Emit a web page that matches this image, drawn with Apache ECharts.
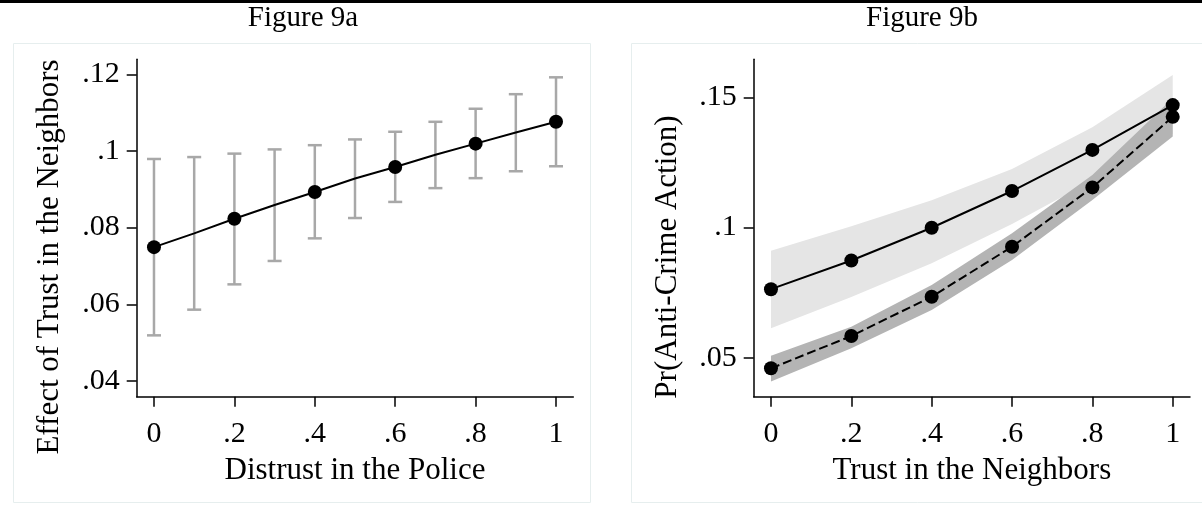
<!DOCTYPE html>
<html>
    <head>
        <meta charset="utf-8">
        <title>Figure 9</title>
        <script src="https://cdn.jsdelivr.net/npm/echarts@6/dist/echarts.min.js"></script>
        <style>
            html, body { margin: 0; padding: 0; background: #fff; }
            #chart { width: 1202px; height: 506px; }
        </style>
    </head>
    <body>
        <div id="chart"></div>
    </body>

    <script type="text/javascript">
        // Figure 9a: effect of trust in the neighbors by distrust in the police
        var distrustX = [0, 0.1, 0.2, 0.3, 0.4, 0.5, 0.6, 0.7, 0.8, 0.9, 1];
        var effect = [0.0749, 0.0785, 0.0823, 0.0859, 0.0893, 0.0928, 0.0958, 0.0990, 0.1019, 0.1048, 0.1076];
        var effectLow = [0.0519, 0.0586, 0.0652, 0.0713, 0.0772, 0.0825, 0.0867, 0.0903, 0.0929, 0.0947, 0.0960];
        var effectHigh = [0.0979, 0.0984, 0.0993, 0.1004, 0.1015, 0.1030, 0.1050, 0.1076, 0.1110, 0.1148, 0.1192];
        var markerX = [0, 0.2, 0.4, 0.6, 0.8, 1];
        var markerEffect = [0.0749, 0.0823, 0.0893, 0.0958, 0.1019, 0.1076];
        var effectTicks = [0.04, 0.06, 0.08, 0.1, 0.12];

        // Figure 9b: Pr(anti-crime action) by trust in the neighbors
        var trustX = [0, 0.2, 0.4, 0.6, 0.8, 1];
        var prSolid = [0.0763, 0.0873, 0.0999, 0.1140, 0.1298, 0.1470];
        var prSolidLow = [0.0613, 0.0733, 0.0863, 0.1013, 0.1180, 0.1360];
        var prSolidHigh = [0.0911, 0.1005, 0.1105, 0.1225, 0.1385, 0.1586];
        var prDashed = [0.0459, 0.0583, 0.0734, 0.0926, 0.1154, 0.1425];
        var prDashedLow = [0.0408, 0.0536, 0.0683, 0.0875, 0.1106, 0.1349];
        var prDashedHigh = [0.0507, 0.0619, 0.0779, 0.0978, 0.1202, 0.1496];
        var prTicks = [0.05, 0.1, 0.15];

        var xTicks = [0, 0.2, 0.4, 0.6, 0.8, 1];

        var serif = "'Liberation Serif', 'DejaVu Serif', serif";

        function stataNum(v) {
            // Stata style: .2 instead of 0.2
            return String(v).replace(/^0\./, '.');
        }

        function zip(xs) {
            var cols = Array.prototype.slice.call(arguments, 1);
            return xs.map(function (x, i) {
                return [x].concat(cols.map(function (c) { return c[i]; }));
            });
        }

        function renderErrorBar(params, api) {
            var x = api.value(0);
            var lo = api.coord([x, api.value(1)]);
            var hi = api.coord([x, api.value(2)]);
            var half = 7;
            var style = { stroke: '#a8a8a8', lineWidth: 2.5 };
            return {
                type: 'group',
                children: [
                    { type: 'line', shape: { x1: lo[0], y1: lo[1], x2: hi[0], y2: hi[1] }, style: style },
                    { type: 'line', shape: { x1: lo[0] - half, y1: lo[1], x2: lo[0] + half, y2: lo[1] }, style: style },
                    { type: 'line', shape: { x1: hi[0] - half, y1: hi[1], x2: hi[0] + half, y2: hi[1] }, style: style }
                ]
            };
        }

        function bandRenderer(color) {
            return function (params, api) {
                if (params.dataIndexInside !== 0) return null;
                var n = params.dataInsideLength;
                var top = [], bottom = [];
                for (var i = 0; i < n; i++) {
                    var x = api.value(0, i);
                    bottom.push(api.coord([x, api.value(1, i)]));
                    top.push(api.coord([x, api.value(2, i)]));
                }
                return {
                    type: 'polygon',
                    shape: { points: bottom.concat(top.reverse()) },
                    style: { fill: color }
                };
            };
        }

        var axisLineStyle = { color: '#000', width: 1.5 };

        function xAxisFor(gridIndex, name) {
            return {
                type: 'value', gridIndex: gridIndex, min: -0.043, max: 1.043,
                name: name, nameLocation: 'middle', nameGap: 59,
                nameTextStyle: { fontFamily: serif, fontSize: 31, color: '#000' },
                axisLine: { show: true, onZero: false, lineStyle: axisLineStyle },
                axisTick: { show: true, length: 10, lineStyle: axisLineStyle, customValues: xTicks },
                axisLabel: { fontFamily: serif, fontSize: 30, color: '#000', margin: 22,
                             customValues: xTicks, formatter: stataNum },
                splitLine: { show: false }
            };
        }

        function yAxisFor(gridIndex, min, max, ticks) {
            return {
                type: 'value', gridIndex: gridIndex, min: min, max: max,
                axisLine: { show: true, onZero: false, lineStyle: axisLineStyle },
                axisTick: { show: true, length: 10, lineStyle: axisLineStyle, customValues: ticks },
                axisLabel: { fontFamily: serif, fontSize: 30, color: '#000', margin: 17,
                             customValues: ticks, formatter: stataNum },
                splitLine: { show: false }
            };
        }

        var myChart = echarts.init(document.getElementById('chart'));

        myChart.setOption({
            backgroundColor: '#fff',
            animation: false,
            title: [
                { text: 'Figure 9a', left: 303, top: 4, textAlign: 'center', padding: 0,
                  textStyle: { fontFamily: serif, fontSize: 29, fontWeight: 'normal', color: '#000' } },
                { text: 'Figure 9b', left: 922, top: 4, textAlign: 'center', padding: 0,
                  textStyle: { fontFamily: serif, fontSize: 29, fontWeight: 'normal', color: '#000' } }
            ],
            graphic: [
                { type: 'rect', shape: { x: 0, y: 0, width: 1202, height: 3 }, style: { fill: '#000' } },
                { type: 'rect', shape: { x: 13.5, y: 43.5, width: 577, height: 459 },
                  style: { fill: 'none', stroke: '#e6eeee', lineWidth: 1 } },
                { type: 'rect', shape: { x: 631.5, y: 43.5, width: 600, height: 459 },
                  style: { fill: 'none', stroke: '#e6eeee', lineWidth: 1 } },
                { type: 'text', x: 50, y: 257, rotation: Math.PI / 2,
                  style: { text: 'Effect of Trust in the Neighbors', font: '31px ' + serif,
                           fill: '#000', align: 'center', verticalAlign: 'middle' } },
                { type: 'text', x: 668, y: 257, rotation: Math.PI / 2,
                  style: { text: 'Pr(Anti-Crime Action)', font: '31px ' + serif,
                           fill: '#000', align: 'center', verticalAlign: 'middle' } }
            ],
            grid: [
                { left: 136.7, top: 59.3, width: 436.6, height: 337.4 },
                { left: 753.7, top: 59.3, width: 436.3, height: 337.4 }
            ],
            xAxis: [
                xAxisFor(0, 'Distrust in the Police'),
                xAxisFor(1, 'Trust in the Neighbors')
            ],
            yAxis: [
                yAxisFor(0, 0.0359, 0.1239, effectTicks),
                yAxisFor(1, 0.035, 0.1646, prTicks)
            ],
            series: [
                {
                    name: 'CI', type: 'custom', xAxisIndex: 0, yAxisIndex: 0,
                    renderItem: renderErrorBar, data: zip(distrustX, effectLow, effectHigh), z: 2
                },
                {
                    name: 'Effect', type: 'line', xAxisIndex: 0, yAxisIndex: 0,
                    data: zip(distrustX, effect), symbol: 'none',
                    lineStyle: { color: '#000', width: 2 }, z: 3
                },
                {
                    name: 'Effect points', type: 'scatter', xAxisIndex: 0, yAxisIndex: 0,
                    data: zip(markerX, markerEffect), symbolSize: 14,
                    itemStyle: { color: '#000', opacity: 1 }, z: 4
                },
                {
                    name: 'Band solid', type: 'custom', xAxisIndex: 1, yAxisIndex: 1,
                    renderItem: bandRenderer('#e5e5e5'), data: zip(trustX, prSolidLow, prSolidHigh), z: 1
                },
                {
                    name: 'Band dashed', type: 'custom', xAxisIndex: 1, yAxisIndex: 1,
                    renderItem: bandRenderer('#b4b4b4'), data: zip(trustX, prDashedLow, prDashedHigh), z: 2
                },
                {
                    name: 'Solid', type: 'line', xAxisIndex: 1, yAxisIndex: 1,
                    data: zip(trustX, prSolid), symbol: 'circle', symbolSize: 14,
                    itemStyle: { color: '#000', opacity: 1 }, lineStyle: { color: '#000', width: 2 }, z: 4
                },
                {
                    name: 'Dashed', type: 'line', xAxisIndex: 1, yAxisIndex: 1,
                    data: zip(trustX, prDashed), symbol: 'circle', symbolSize: 14,
                    itemStyle: { color: '#000', opacity: 1 }, lineStyle: { color: '#000', width: 2, type: [9, 4] }, z: 4
                }
            ]
        });
    </script>

</html>
